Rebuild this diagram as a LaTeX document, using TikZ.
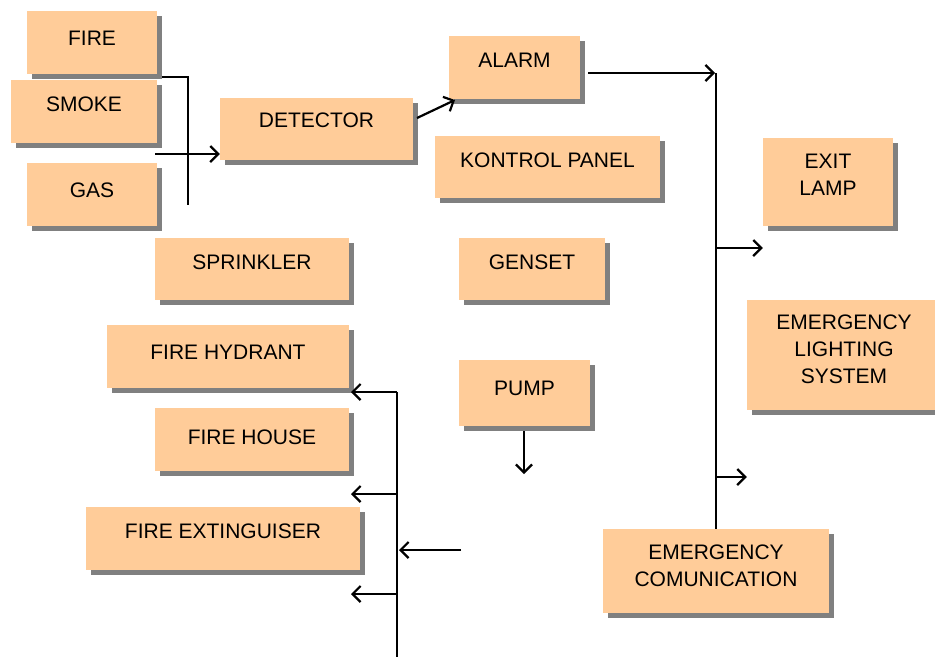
\documentclass[tikz,border=0pt]{standalone}
\usepackage{fontspec}
\setmainfont{Liberation Sans}
\usetikzlibrary{arrows.meta,shadows}
\definecolor{boxfill}{RGB}{255,204,153}
\definecolor{boxshadow}{RGB}{128,128,128}

% box: name, x1, y1, x2, y2, text centre y, text
\newcommand\peachbox[7]{%
  \node[peach,minimum width={#4-#2},minimum height={#5-#3}] (#1)
    at ({(#2+#4)/2},{(#3+#5)/2}) {};
  \node[boxtext] (#1-text) at ({(#2+#4)/2},#6) {#7};
}

\begin{document}
\begin{tikzpicture}[x=1pt,y=-1pt,
  peach/.style={fill=boxfill,inner sep=0pt,
    drop shadow={shadow xshift=5pt,shadow yshift=-5pt,fill=boxshadow,opacity=1}},
  boxtext/.style={inner sep=0pt,align=center,font=\fontsize{21}{27}\selectfont},
  wire/.style={line width=2.2pt},
  arr/.style={wire,-{Straight Barb[length=8pt,width=16pt,line width=2.2pt]}}]
\useasboundingbox (0,0) rectangle (935,657);

\peachbox{fire}{27}{11}{157}{74}{38}{FIRE}
\peachbox{smoke}{11}{80}{157}{143}{104}{SMOKE}
\peachbox{gas}{27}{163}{157}{226}{190}{GAS}
\peachbox{detector}{220}{98}{413}{160}{120}{DETECTOR}
\peachbox{alarm}{449}{36}{580}{99}{60}{ALARM}
\peachbox{kontrol}{435}{136}{660}{198}{160}{KONTROL PANEL}
\peachbox{exit}{763}{138}{893}{226}{175}{EXIT\\LAMP}
\peachbox{sprinkler}{155}{238}{349}{300}{262}{SPRINKLER}
\peachbox{genset}{459}{238}{605}{300}{262}{GENSET}
\peachbox{hydrant}{107}{325}{349}{388}{352}{FIRE HYDRANT}
\peachbox{pump}{459}{360}{590}{426}{388}{PUMP}
\peachbox{lighting}{747}{300}{941}{410}{349}{EMERGENCY\\LIGHTING\\SYSTEM}
\peachbox{firehouse}{155}{408}{349}{471}{437}{FIRE HOUSE}
\peachbox{extinguiser}{86}{507}{360}{570}{531}{FIRE EXTINGUISER}
\peachbox{comm}{603}{529}{829}{613}{566}{EMERGENCY\\COMUNICATION}

% sensors joined into the detector
\coordinate (fireout) at (162,77);
\coordinate (bracketend) at (188,205);
\coordinate (sensin) at (155,154);
\draw[wire] (fireout) -| (bracketend);
\draw[arr] (sensin) -- (sensin -| detector.west);

% detector to alarm
\coordinate (detout) at (417,118);
\coordinate (alarmin) at (455,100);
\draw[arr] (detout) -- (alarmin);

% alarm feeding the right-hand bus
\coordinate (alarmout) at (588,73);
\coordinate (bustop) at (715,73);
\draw[arr] (alarmout) -- (bustop);
\coordinate (busx) at (716,73);
\draw[wire] (busx) -- (busx |- comm.north);
\coordinate (tapexit) at (716,248);
\coordinate (taplight) at (716,477);
\draw[arr] (tapexit) -- (tapexit -| exit.west);
\draw[arr] (taplight) -- (taplight -| lighting.west);

% pump output
\coordinate (pumpout) at (524,431);
\coordinate (pumpend) at (524,474);
\draw[arr] (pumpout) -- (pumpend);

% left-hand distribution bus
\coordinate (lbtop) at (397,392);
\coordinate (lbbot) at (397,657);
\draw[wire] (lbtop) -- (lbbot);
\coordinate (tapa) at (397,392);
\coordinate (tapb) at (397,494);
\coordinate (tapc) at (397,594);
\coordinate (enda) at (351,392);
\coordinate (endb) at (351,494);
\coordinate (endc) at (351,594);
\draw[arr] (tapa) -- (enda);
\draw[arr] (tapb) -- (endb);
\draw[arr] (tapc) -- (endc);
\coordinate (feedin) at (461,550);
\coordinate (feedend) at (399,550);
\draw[arr] (feedin) -- (feedend);
\end{tikzpicture}
\end{document}
